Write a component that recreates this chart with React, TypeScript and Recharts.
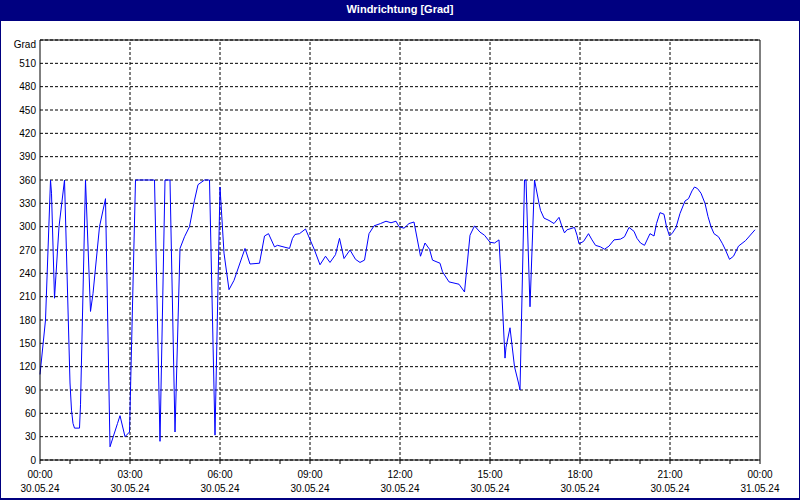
import React from "react";
import {
  LineChart,
  Line,
  XAxis,
  YAxis,
  CartesianGrid,
  ReferenceLine,
} from "recharts";

// time of each reading in minutes after 30.05.24 00:00
const minutes = [
  0, 11, 21, 23, 29, 38, 49, 60, 63, 66, 69, 79, 81, 91, 101, 106, 119, 131,
  140, 155, 160, 170, 179, 191, 229, 240, 250, 260, 270, 280, 289, 299, 309,
  316, 329, 339, 350, 360, 368, 378, 388, 410, 420, 439, 449, 457, 469, 475,
  499, 505, 510, 519, 531, 549, 560, 571, 580, 591, 599, 608, 620, 631, 640,
  649, 658, 668, 681, 692, 702, 712, 718, 728, 738, 748, 761, 770, 779, 785,
  800, 805, 818, 838, 849, 860, 869, 880, 889, 900, 909, 918, 922, 930, 932,
  940, 949, 957, 960, 969, 972, 980, 989, 998, 1001, 1008, 1018, 1028, 1038,
  1044, 1049, 1054, 1069, 1074, 1078, 1087, 1097, 1104, 1111, 1121, 1129,
  1138, 1148, 1161, 1169, 1178, 1188, 1194, 1201, 1209, 1220, 1228, 1233,
  1240, 1248, 1253, 1259, 1265, 1272, 1280, 1290, 1297, 1304, 1309, 1315,
  1322, 1330, 1336, 1342, 1348, 1357, 1365, 1371, 1379, 1387, 1397, 1411,
  1430,
];

// wind direction in degrees
const degrees = [
  110, 180, 360, 343, 208, 300, 360, 99, 64, 47, 41, 41, 71, 360, 191, 214,
  300, 336, 17, 47, 57, 30, 36, 360, 360, 24, 360, 360, 36, 272, 287, 300, 334,
  354, 360, 360, 32, 351, 266, 219, 231, 272, 252, 253, 288, 291, 274, 276,
  272, 285, 290, 291, 297, 270, 251, 262, 254, 264, 285, 259, 270, 258, 254,
  257, 291, 301, 304, 307, 305, 307, 300, 298, 304, 306, 262, 279, 271, 257,
  253, 242, 229, 226, 216, 289, 301, 293, 289, 280, 279, 283, 236, 131, 145,
  170, 120, 99, 90, 360, 360, 197, 360, 330, 321, 311, 308, 304, 312, 300,
  292, 296, 299, 289, 278, 281, 291, 283, 276, 274, 271, 275, 283, 284, 287,
  299, 294, 285, 279, 276, 291, 288, 304, 318, 316, 300, 288, 292, 299, 317,
  333, 336, 346, 351, 349, 343, 330, 313, 300, 291, 287, 278, 270, 258, 262,
  275, 282, 296,
];

const hourTicks = [
  0, 60, 120, 180, 240, 300, 360, 420, 480, 540, 600, 660, 720, 780, 840, 900,
  960, 1020, 1080, 1140, 1200, 1260, 1320, 1380, 1440,
];
const labelTicks = [0, 180, 360, 540, 720, 900, 1080, 1260, 1440];
const timeLabels = [
  "00:00", "03:00", "06:00", "09:00", "12:00", "15:00", "18:00", "21:00", "00:00",
];
const dateLabels = [
  "30.05.24", "30.05.24", "30.05.24", "30.05.24", "30.05.24", "30.05.24",
  "30.05.24", "30.05.24", "31.05.24",
];
const gridX = [180, 360, 540, 720, 900, 1080, 1260];

const gradTicks = [
  0, 30, 60, 90, 120, 150, 180, 210, 240, 270, 300, 330, 360, 390, 420, 450,
  480, 510, 540,
];
const compassTicks = [0, 45, 90, 135, 180, 225, 270, 315, 360, 405, 450, 495, 540];
const compassLabels = ["N", "NE", "E", "SE", "S", "SW", "W", "NW", "N", "NE", "E", "SE", "S"];

const data = minutes.map((t, i) => ({ t, deg: degrees[i] }));

const FONT = "'Liberation Sans', Arial, sans-serif";

const TimeTick = (props: any) => {
  const { x, y, payload } = props;
  const i = labelTicks.indexOf(payload.value);
  if (i < 0) return null;
  return (
    <g>
      <text x={x} y={y + 12} textAnchor="middle" fontSize={10} fontFamily={FONT} fill="#000">
        {timeLabels[i]}
      </text>
      <text x={x} y={y + 26} textAnchor="middle" fontSize={10} fontFamily={FONT} fill="#000">
        {dateLabels[i]}
      </text>
    </g>
  );
};

const GradTick = (props: any) => {
  const { x, y, payload } = props;
  const top = payload.value === 540;
  return (
    <text
      x={x}
      y={y + (top ? 4 : 0)}
      dy="0.35em"
      textAnchor="end"
      fontSize={10}
      fontFamily={FONT}
      fill="#000"
    >
      {top ? "Grad" : payload.value}
    </text>
  );
};

export default function App() {
  return (
    <div
      style={{
        position: "fixed",
        left: 0,
        top: 0,
        width: 800,
        height: 500,
        background: "#fff",
        overflow: "hidden",
      }}
    >
      <div
        style={{
          position: "absolute",
          left: 0,
          top: 0,
          width: 800,
          height: 21,
          background: "#000080",
          color: "#fff",
          fontFamily: FONT,
          fontWeight: "bold",
          fontSize: 11,
          lineHeight: "19px",
          textAlign: "center",
        }}
      >
        Windrichtung [Grad]
      </div>
      <div style={{ position: "absolute", left: 0, top: 20 }}>
        <LineChart
          width={800}
          height={480}
          data={data}
          margin={{ top: 20, right: 0, bottom: 0, left: 0 }}
        >
          <CartesianGrid
            vertical={false}
            stroke="#000"
            strokeDasharray="3 2"
          />
          {gridX.map((v) => (
            <ReferenceLine key={v} x={v} stroke="#000" strokeDasharray="3 2" />
          ))}
          <ReferenceLine y={540} stroke="#000" />
          <XAxis
            dataKey="t"
            type="number"
            domain={[0, 1440]}
            ticks={hourTicks}
            interval={0}
            height={40}
            tickSize={4}
            tickMargin={2}
            stroke="#000"
            tick={<TimeTick />}
          />
          <YAxis
            domain={[0, 540]}
            ticks={gradTicks}
            interval={0}
            width={40}
            tickLine={false}
            tickSize={0}
            tickMargin={4}
            stroke="#000"
            tick={<GradTick />}
          />
          <YAxis
            yAxisId="compass"
            orientation="right"
            domain={[0, 540]}
            ticks={compassTicks}
            interval={0}
            width={40}
            tickSize={3}
            tickMargin={2}
            stroke="#000"
            tick={{ fontSize: 10, fill: "#000", fontFamily: FONT }}
            tickFormatter={(v: number) => compassLabels[compassTicks.indexOf(v)]}
          />
          <Line
            type="linear"
            dataKey="deg"
            stroke="#0000ff"
            strokeWidth={1}
            dot={false}
            isAnimationActive={false}
          />
        </LineChart>
      </div>
      <div
        style={{
          position: "absolute",
          left: 0,
          top: 0,
          width: 800,
          height: 500,
          boxSizing: "border-box",
          border: "1px solid #000080",
          borderBottomWidth: 2,
          pointerEvents: "none",
        }}
      />
    </div>
  );
}
